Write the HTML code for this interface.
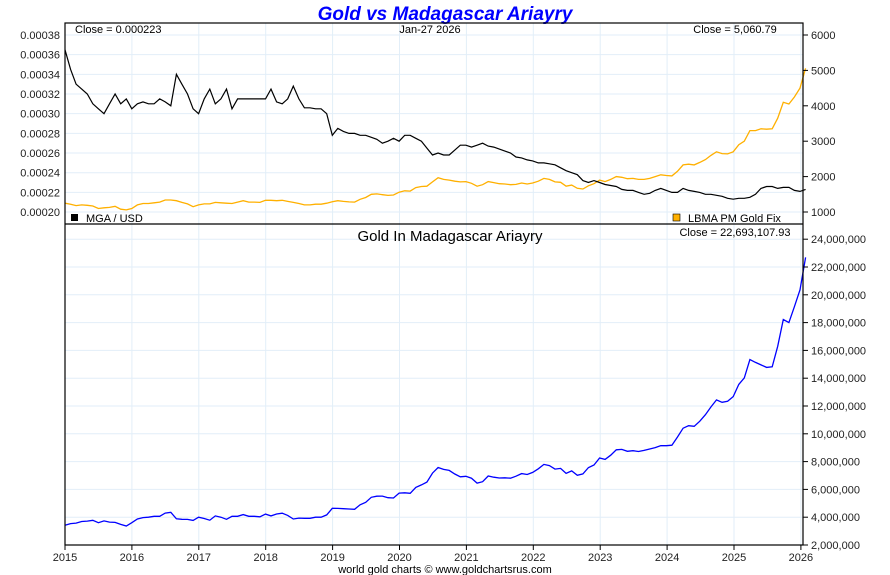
<!DOCTYPE html>
<html><head><meta charset="utf-8"><style>
html,body{margin:0;padding:0;background:#fff}
svg{display:block;font-family:"Liberation Sans",sans-serif}
</style></head><body>
<svg id="c" width="890" height="575" viewBox="0 0 890 575">
<text x="445" y="20" text-anchor="middle" font-size="19" font-weight="bold" font-style="italic" fill="#0000ff">Gold vs Madagascar Ariayry</text>
<g id="grid"></g>
<g id="series"></g>
<rect x="65" y="23" width="738" height="522" fill="none" stroke="#000" stroke-width="1.2"/>
<line x1="65" y1="224" x2="803" y2="224" stroke="#000" stroke-width="1.2"/>
<g id="axes" font-size="11" fill="#222"></g>
<text x="75" y="33" font-size="11">Close = 0.000223</text>
<text x="430" y="33" text-anchor="middle" font-size="11">Jan-27  2026</text>
<text x="735" y="33" text-anchor="middle" font-size="11">Close = 5,060.79</text>
<rect x="71" y="214" width="7" height="7" fill="#000"/>
<text x="86" y="222" font-size="11">MGA / USD</text>
<rect x="673" y="214" width="7" height="7" fill="#ffb000" stroke="#000" stroke-width="0.6"/>
<text x="688" y="222" font-size="11">LBMA PM Gold Fix</text>
<text x="450" y="241" text-anchor="middle" font-size="15">Gold In Madagascar Ariayry</text>
<text x="735" y="236" text-anchor="middle" font-size="11">Close = 22,693,107.93</text>
<text x="445" y="573" text-anchor="middle" font-size="11">world gold charts © www.goldchartsrus.com</text>
</svg>
<script>
const years=[2015,2016,2017,2018,2019,2020,2021,2022,2023,2024,2025,2026];
const mgaTicks=[0.00020,0.00022,0.00024,0.00026,0.00028,0.00030,0.00032,0.00034,0.00036,0.00038];
const goldTicks=[1000,2000,3000,4000,5000,6000];
const localTicks=[2e6,4e6,6e6,8e6,10e6,12e6,14e6,16e6,18e6,20e6,22e6,24e6];
const goldUsd=[1250,1220,1180,1200,1190,1170,1100,1120,1130,1160,1080,1060,
1100,1200,1240,1240,1260,1280,1340,1340,1320,1270,1230,1150,
1200,1230,1230,1270,1260,1250,1240,1280,1320,1280,1280,1270,
1330,1330,1320,1330,1300,1270,1240,1200,1200,1220,1220,1250,
1290,1320,1300,1285,1280,1360,1410,1500,1510,1490,1470,1480,
1560,1600,1590,1690,1720,1730,1850,1970,1920,1900,1870,1850,
1860,1810,1730,1770,1860,1830,1800,1790,1770,1780,1820,1790,
1820,1870,1950,1920,1850,1840,1730,1760,1670,1650,1740,1800,
1900,1860,1920,2000,1980,1940,1950,1920,1920,1950,2000,2050,
2030,2020,2150,2330,2350,2330,2400,2480,2600,2700,2650,2640,
2700,2900,3000,3300,3300,3350,3340,3350,3650,4100,4050,4250,
4500,5060];
const mgaUsd=[3.65,3.45,3.30,3.25,3.2,3.1,3.05,3.0,3.1,3.2,3.1,3.15,
3.05,3.1,3.12,3.1,3.1,3.15,3.12,3.08,3.4,3.3,3.2,3.05,
3.0,3.15,3.25,3.1,3.15,3.25,3.05,3.15,3.15,3.15,3.15,3.15,
3.15,3.25,3.12,3.1,3.15,3.28,3.15,3.06,3.06,3.05,3.05,3.0,
2.78,2.85,2.82,2.8,2.8,2.78,2.78,2.76,2.74,2.7,2.72,2.75,
2.72,2.78,2.78,2.75,2.72,2.65,2.58,2.6,2.58,2.58,2.63,2.68,
2.68,2.66,2.68,2.7,2.67,2.66,2.64,2.62,2.6,2.56,2.55,2.53,
2.52,2.5,2.5,2.49,2.48,2.45,2.42,2.4,2.38,2.32,2.3,2.32,
2.3,2.28,2.27,2.26,2.23,2.22,2.22,2.2,2.18,2.19,2.22,2.24,
2.22,2.2,2.2,2.24,2.22,2.21,2.2,2.18,2.18,2.17,2.16,2.14,
2.13,2.14,2.14,2.15,2.18,2.24,2.26,2.26,2.24,2.25,2.25,2.22,
2.21,2.23];
const NS="http://www.w3.org/2000/svg";
const X=t=>65+(t-2015)*66.9;
const yMga=v=>35+(0.00038-v)/0.00002*19.67;
const yGold=v=>212-(v-1000)/1000*35.4;
const yLoc=v=>545-(v-2e6)/2e6*27.8;
function mk(tag,at,parent){const e=document.createElementNS(NS,tag);for(const k in at)e.setAttribute(k,at[k]);parent.appendChild(e);return e;}
const grid=document.getElementById('grid'),axes=document.getElementById('axes'),ser=document.getElementById('series');
years.forEach(y=>{
  const l=mk('line',{x1:X(y),x2:X(y),y1:23,y2:545,stroke:'#e2eef8'},grid);
  
  
  const tk=mk('line',{x1:X(y),x2:X(y),y1:545,y2:550,stroke:'#000'},axes);
  
  
  const t=mk('text',{x:X(y),y:561,'text-anchor':'middle'},axes);t.textContent=y;
  
  
});
mgaTicks.forEach(v=>{
  const l=mk('line',{x1:65,x2:803,y1:yMga(v),y2:yMga(v),stroke:'#e2eef8'},grid);
  
  
  const t=mk('text',{x:60,y:yMga(v)+4,'text-anchor':'end'},axes);t.textContent=v.toFixed(5);
  
  
});
goldTicks.forEach(v=>{
  const tk=mk('line',{x1:803,x2:808,y1:yGold(v),y2:yGold(v),stroke:'#000'},axes);
  
  
  const t=mk('text',{x:811,y:yGold(v)+4},axes);t.textContent=v;
  
  
});
localTicks.forEach(v=>{
  const l=mk('line',{x1:65,x2:803,y1:yLoc(v),y2:yLoc(v),stroke:'#e2eef8'},grid);
  
  
  const tk=mk('line',{x1:803,x2:808,y1:yLoc(v),y2:yLoc(v),stroke:'#000'},axes);
  
  
  const t=mk('text',{x:811,y:yLoc(v)+4},axes);t.textContent=v.toLocaleString('en-US');
  
  
});
const lastT=2026.07;
const tt=i=>2015+i*(lastT-2015)/(goldUsd.length-1);
function path(vals,yf){return vals.map((v,i)=>(i?'L':'M')+X(tt(i)).toFixed(1)+','+yf(v).toFixed(1)).join('');}
const g=mk('path',{d:path(goldUsd,yGold),fill:'none',stroke:'#ffb000','stroke-width':1.3},ser);


const m=mk('path',{d:path(mgaUsd.map(v=>v*1e-4),yMga),fill:'none',stroke:'#000','stroke-width':1.2},ser);


const local=goldUsd.map((v,i)=>v/(mgaUsd[i]*1e-4));
const b=mk('path',{d:path(local,yLoc),fill:'none',stroke:'#0000ff','stroke-width':1.3},ser);


</script>
</body></html>
